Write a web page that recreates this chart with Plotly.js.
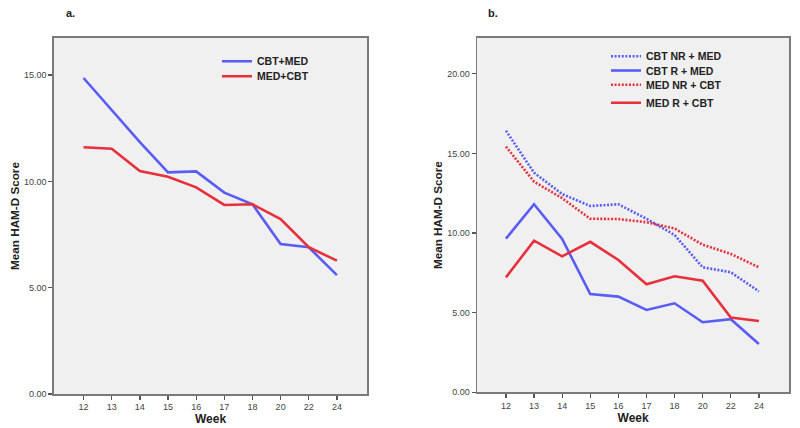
<!DOCTYPE html>
<html>
<head>
<meta charset="utf-8">
<script src="https://cdn.plot.ly/plotly-3.0.1.min.js"></script>
<style>
html,body{margin:0;padding:0;background:#fff;}
#chart{width:800px;height:428px;}
</style>
</head>
<body>
<div id="chart"></div>
<script>
// ---- data ----
const weeks = ["12","13","14","15","16","17","18","20","22","24"];
// Panel a
const cbtMed = [14.86, 13.35, 11.84, 10.42, 10.47, 9.47, 8.92, 7.05, 6.90, 5.59];
const medCbt = [11.60, 11.53, 10.48, 10.22, 9.72, 8.89, 8.92, 8.23, 6.90, 6.27];
// Panel b
const cbtNrMed = [16.43, 13.79, 12.45, 11.70, 11.81, 10.90, 9.88, 7.85, 7.54, 6.34];
const cbtRMed  = [9.65, 11.81, 9.63, 6.17, 6.01, 5.17, 5.59, 4.40, 4.59, 3.03];
const medNrCbt = [15.43, 13.23, 12.19, 10.90, 10.88, 10.68, 10.29, 9.27, 8.69, 7.85];
const medRCbt  = [7.22, 9.52, 8.54, 9.45, 8.31, 6.78, 7.29, 7.01, 4.69, 4.48];
const yTicksA = [0, 5, 10, 15];
const yTicksB = [0, 5, 10, 15, 20];

const BLUE = "#5a5cf6";
const RED = "#e8303c";
const FONT = "Liberation Sans, Arial, sans-serif";
const DOT = "2px,1.6px";

function tr(y, name, color, dash, xa, ya, legend) {
  return {
    x: weeks, y: y, name: "<b>" + name + "</b>", type: "scatter", mode: "lines",
    line: {color: color, width: 2.6, dash: dash},
    xaxis: xa, yaxis: ya, legend: legend
  };
}

const traces = [
  tr(cbtMed, "CBT+MED", BLUE, "solid", "x", "y", "legend"),
  tr(medCbt, "MED+CBT", RED, "solid", "x", "y", "legend2"),
  tr(cbtNrMed, "CBT NR + MED", BLUE, DOT, "x2", "y2", "legend3"),
  tr(cbtRMed, "CBT R + MED", BLUE, "solid", "x2", "y2", "legend4"),
  tr(medNrCbt, "MED NR + CBT", RED, DOT, "x2", "y2", "legend5"),
  tr(medRCbt, "MED R + CBT", RED, "solid", "x2", "y2", "legend6")
];

function xax(domain, range, anchor) {
  return {
    domain: domain, anchor: anchor, type: "category", range: range,
    showgrid: false, zeroline: false,
    showline: true, mirror: true, linecolor: "#7a7a7a", linewidth: 1.6,
    ticks: "outside", ticklen: 4, tickwidth: 1.3, tickcolor: "#555",
    tickfont: {family: FONT, size: 9, color: "#444"},
    title: {text: "<b>Week</b>", font: {family: FONT, size: 12, color: "#222"}, standoff: 3},
    fixedrange: true
  };
}
function yax(domain, range, ticks, anchor) {
  return {
    domain: domain, anchor: anchor, range: range,
    tickvals: ticks, ticktext: ticks.map(v => v.toFixed(2)),
    showgrid: false, zeroline: false,
    showline: true, mirror: true, linecolor: "#7a7a7a", linewidth: 1.6,
    ticks: "outside", ticklen: 4, tickwidth: 1.3, tickcolor: "#555",
    tickfont: {family: FONT, size: 9, color: "#444"},
    title: {text: "<b>Mean HAM-D Score</b>", font: {family: FONT, size: 11.7, color: "#222"}, standoff: 2},
    fixedrange: true
  };
}

function leg(xPx, topPx) {
  return {
    x: xPx / 800, y: 1 - topPx / 428, xanchor: "left", yanchor: "top",
    bgcolor: "rgba(0,0,0,0)", borderwidth: 0,
    font: {family: FONT, size: 10.5, color: "#222"}
  };
}

const layout = {
  width: 800, height: 428,
  margin: {l: 0, r: 0, t: 0, b: 0},
  paper_bgcolor: "#ffffff",
  plot_bgcolor: "#f0f0f0",
  showlegend: true,
  xaxis: xax([0.0675, 0.4588], [-1.05, 10.07], "y"),
  yaxis: yax([0.0794, 0.9112], [0, 16.74], yTicksA, "x"),
  xaxis2: xax([0.5966, 0.9862], [-1.02, 10.07], "y2"),
  yaxis2: yax([0.0834, 0.9112], [0, 22.25], yTicksB, "x2"),
  legend: leg(217, 46.7),
  legend2: leg(217, 61.7),
  legend3: leg(606, 41.7),
  legend4: leg(606, 56),
  legend5: leg(606, 70.3),
  legend6: leg(606, 88.3),
  annotations: [
    {text: "<b>a.</b>", xref: "paper", yref: "paper", x: 70 / 800, y: 1 - 13 / 428,
     xanchor: "center", yanchor: "middle", showarrow: false, font: {family: FONT, size: 11, color: "#222"}},
    {text: "<b>b.</b>", xref: "paper", yref: "paper", x: 493 / 800, y: 1 - 13 / 428,
     xanchor: "center", yanchor: "middle", showarrow: false, font: {family: FONT, size: 11, color: "#222"}}
  ]
};

Plotly.newPlot("chart", traces, layout, {displayModeBar: false, staticPlot: true});
</script>
</body>
</html>
